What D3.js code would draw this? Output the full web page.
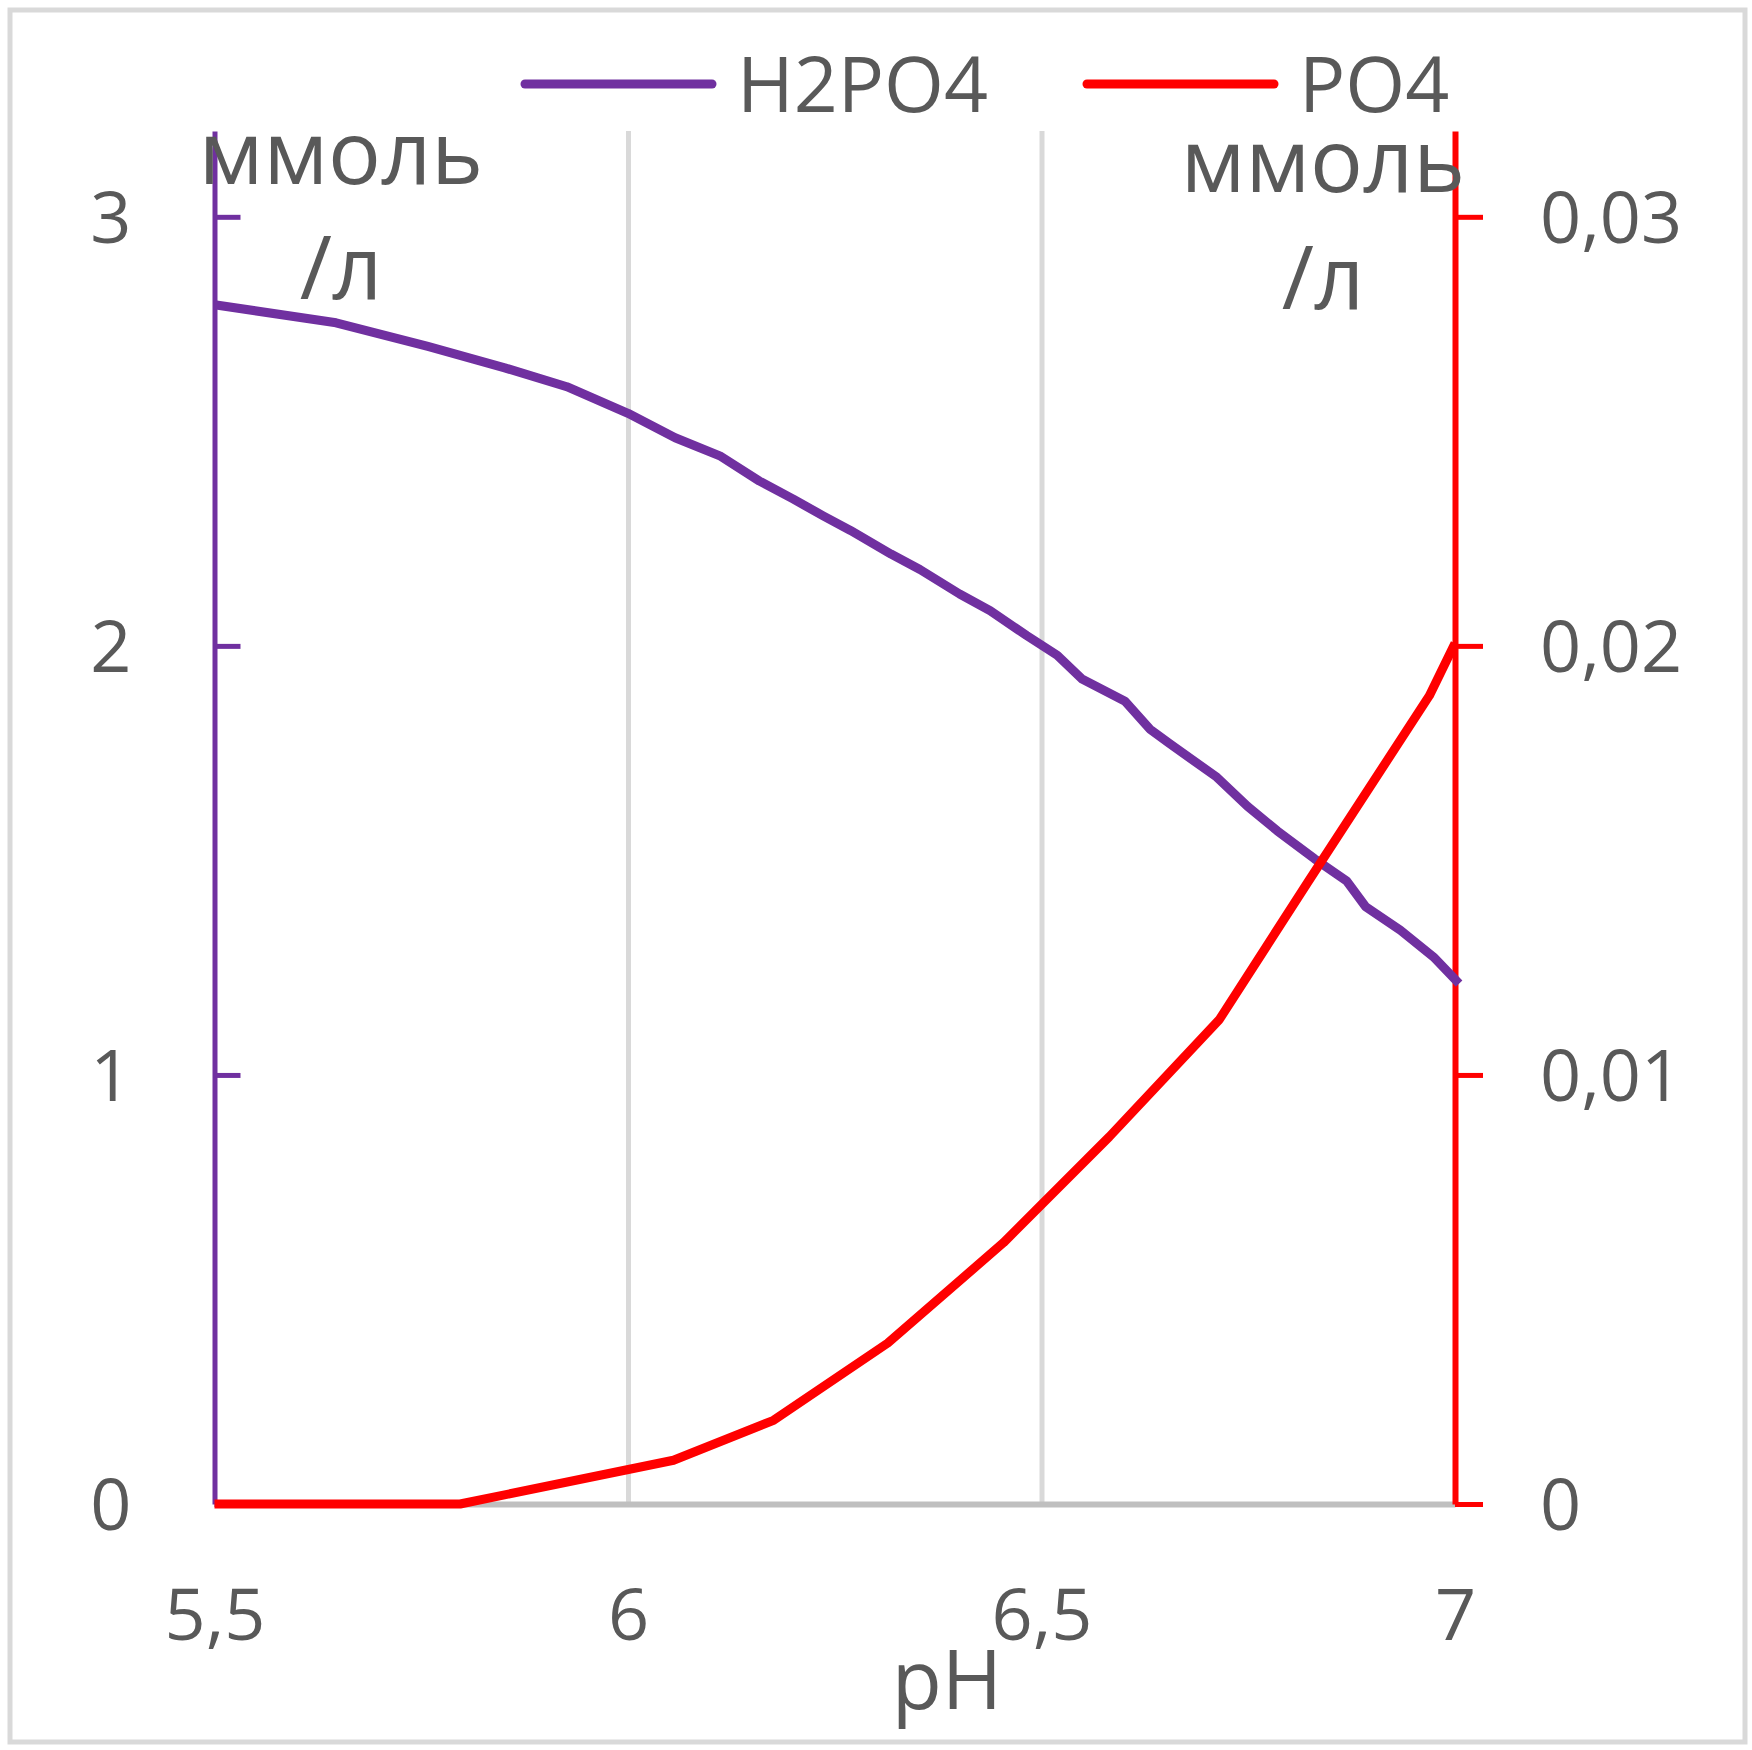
<!DOCTYPE html>
<html>
<head>
<meta charset="utf-8">
<script src="https://cdn.jsdelivr.net/npm/d3@7"></script>
<style>
  html, body { margin: 0; padding: 0; background: #ffffff; }
  svg { display: block; }
</style>
</head>
<body>
<svg id="chart" width="1752" height="1750"></svg>
<script>
// ---------- data ----------
const seriesNames = ["H2PO4", "PO4"];
const seriesColors = ["#7030a0", "#ff0000"];

const pH_H2PO4 = [5.5, 5.647, 5.758, 5.851, 5.926, 6.0, 6.057, 6.111, 6.159, 6.2, 6.236, 6.269,
  6.318, 6.353, 6.401, 6.438, 6.482, 6.519, 6.549, 6.601, 6.631, 6.655, 6.712, 6.749, 6.785,
  6.83, 6.869, 6.892, 6.934, 6.974, 7.005];
const H2PO4 = [2.795, 2.753, 2.698, 2.648, 2.604, 2.542, 2.485, 2.443, 2.384, 2.342, 2.303, 2.269,
  2.214, 2.178, 2.121, 2.082, 2.024, 1.978, 1.923, 1.871, 1.806, 1.772, 1.694, 1.626, 1.569,
  1.504, 1.452, 1.392, 1.337, 1.275, 1.213];

const pH_PO4 = [5.5, 5.797, 6.055, 6.176, 6.314, 6.454, 6.582, 6.715, 6.823, 6.969, 7.0];
const PO4 = [0, 0, 0.00102, 0.00195, 0.00375, 0.00609, 0.00856, 0.01129, 0.01452, 0.01884, 0.02006];

const xTicks = [5.5, 6, 6.5, 7];
const xTickLabels = ["5,5", "6", "6,5", "7"];
const gridTicks = [6, 6.5];
const leftTicks = [0, 1, 2, 3];
const leftTickLabels = ["0", "1", "2", "3"];
const rightTicks = [0, 0.01, 0.02, 0.03];
const rightTickLabels = ["0", "0,01", "0,02", "0,03"];
const xDomain = [5.5, 7];
const leftDomain = [0, 3.2];
const rightDomain = [0, 0.032];
const xTitle = "pH";
const yTitleLines = ["ммоль", "/л"];

// ---------- layout ----------
const W = 1752, H = 1750;
const plot = { left: 214.5, right: 1455, top: 131, bottom: 1504 };
const FONT = "'Open Sans', 'Noto Sans', sans-serif";
const TEXT = "#595959";
const TICK_FS = 72;

const svg = d3.select("#chart");

svg.append("rect").attr("x", 0).attr("y", 0).attr("width", W).attr("height", H).attr("fill", "#fff");
svg.append("rect")
  .attr("x", 10).attr("y", 10).attr("width", W - 17).attr("height", H - 18)
  .attr("fill", "none").attr("stroke", "#d9d9d9").attr("stroke-width", 5);

const x = d3.scaleLinear().domain(xDomain).range([plot.left, plot.right]);
const yL = d3.scaleLinear().domain(leftDomain).range([plot.bottom, plot.top]);
const yR = d3.scaleLinear().domain(rightDomain).range([plot.bottom, plot.top]);

// gridlines
const grid = svg.append("g").attr("transform", `translate(0,${plot.bottom})`)
  .call(d3.axisBottom(x).tickValues(gridTicks).tickSize(-(plot.bottom - plot.top)).tickFormat(""));
grid.select(".domain").remove();
grid.selectAll(".tick line").attr("stroke", "#d9d9d9").attr("stroke-width", 5);

// x axis
const xAxis = svg.append("g").attr("transform", `translate(0,${plot.bottom})`)
  .call(d3.axisBottom(x).tickValues(xTicks).tickSize(0).tickSizeOuter(0).tickPadding(85)
    .tickFormat((d, i) => xTickLabels[i]));
xAxis.select(".domain").attr("stroke", "#bfbfbf").attr("stroke-width", 6);
xAxis.selectAll(".tick line").remove();
xAxis.selectAll("text").attr("fill", TEXT).attr("font-family", FONT).attr("font-size", TICK_FS);

// left axis
const lAxis = svg.append("g").attr("transform", `translate(${plot.left},0)`)
  .call(d3.axisLeft(yL).tickValues(leftTicks).tickSizeInner(-26).tickSizeOuter(0).tickPadding(83)
    .tickFormat((d, i) => leftTickLabels[i]));
lAxis.select(".domain").attr("stroke", seriesColors[0]).attr("stroke-width", 5);
lAxis.selectAll(".tick line").attr("stroke", seriesColors[0]).attr("stroke-width", 5);
lAxis.selectAll("text").attr("fill", TEXT).attr("font-family", FONT).attr("font-size", TICK_FS).attr("dy", "0.36em");

// right axis
const rAxis = svg.append("g").attr("transform", `translate(${plot.right},0)`)
  .call(d3.axisRight(yR).tickValues(rightTicks).tickSizeInner(28).tickSizeOuter(0).tickPadding(57)
    .tickFormat((d, i) => rightTickLabels[i]));
rAxis.select(".domain").attr("stroke", seriesColors[1]).attr("stroke-width", 6);
rAxis.selectAll(".tick line").attr("stroke", seriesColors[1]).attr("stroke-width", 5);
rAxis.selectAll("text").attr("fill", TEXT).attr("font-family", FONT).attr("font-size", TICK_FS).attr("dy", "0.36em");

// data lines
const h2 = pH_H2PO4.map((p, i) => [p, H2PO4[i]]);
const po = pH_PO4.map((p, i) => [p, PO4[i]]);

svg.append("path").datum(h2)
  .attr("fill", "none").attr("stroke", seriesColors[0]).attr("stroke-width", 9)
  .attr("stroke-linejoin", "round")
  .attr("d", d3.line().x(d => x(d[0])).y(d => yL(d[1])));

svg.append("path").datum(po)
  .attr("fill", "none").attr("stroke", seriesColors[1]).attr("stroke-width", 9)
  .attr("stroke-linejoin", "round")
  .attr("d", d3.line().x(d => x(d[0])).y(d => yR(d[1])));

// axis titles
function titleBlock(cx, baselines) {
  const t = svg.append("text").attr("fill", TEXT).attr("font-family", FONT)
    .attr("font-size", 88).attr("text-anchor", "middle");
  yTitleLines.forEach((s, i) => {
    t.append("tspan").attr("x", cx).attr("y", baselines[i]).text(s);
  });
}
titleBlock(341, [184, 299]);
titleBlock(1323, [192, 309]);

svg.append("text").attr("x", 947).attr("y", 1709).attr("text-anchor", "middle")
  .attr("fill", TEXT).attr("font-family", FONT).attr("font-size", 82).text(xTitle);

// legend
const legendX = [525, 1087];
const legend = svg.append("g");
seriesNames.forEach((name, i) => {
  const g = legend.append("g").attr("transform", `translate(${legendX[i]},84)`);
  g.append("line").attr("x1", 0).attr("x2", 187).attr("y1", 0).attr("y2", 0)
    .attr("stroke", seriesColors[i]).attr("stroke-width", 9).attr("stroke-linecap", "round");
  g.append("text").attr("x", 212).attr("y", 28).attr("fill", TEXT)
    .attr("font-family", FONT).attr("font-size", 77).text(name);
});
</script>
</body>
</html>
